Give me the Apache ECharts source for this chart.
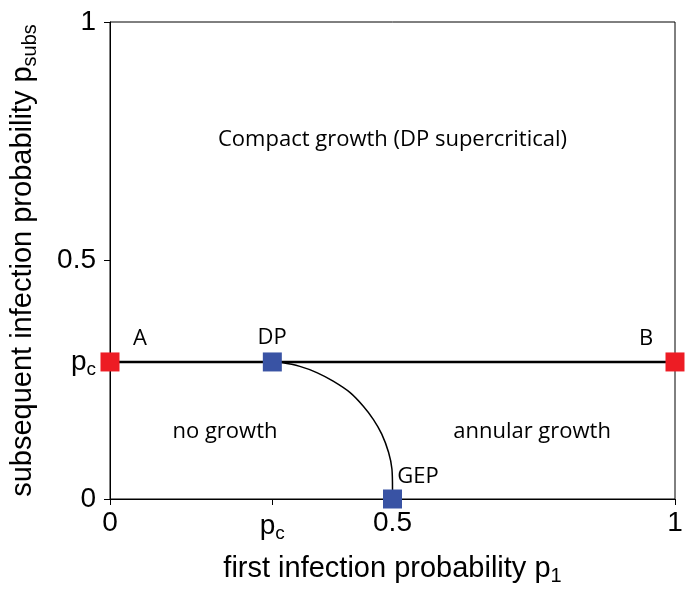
<!DOCTYPE html>
<html>
<head>
<meta charset="utf-8">
<script src="https://cdn.jsdelivr.net/npm/echarts@6/dist/echarts.min.js"></script>
<style>
  html, body { margin: 0; padding: 0; background: #fff; }
  #chart { width: 690px; height: 591px; }
</style>
</head>
<body>
<div id="chart"></div>
<script>
// critical probability of directed percolation
var pc = 0.2873;

// tick positions on both axes
var xTicks = [0, pc, 0.5, 1];
var yTicks = [0, pc, 0.5, 1];

// p_subs = pc line from A to B
var pcLine = [[0, pc], [1, pc]];

// boundary between no growth and annular growth, DP -> GEP
var boundary = [
  [pc, pc], [0.304, 0.286], [0.336, 0.278], [0.366, 0.265], [0.395, 0.247],
  [0.425, 0.223], [0.448, 0.195], [0.466, 0.167], [0.481, 0.136],
  [0.493, 0.098], [0.499, 0.063], [0.5, 0.021], [0.5, 0]
];

// marked points
var redPoints = [[0, pc], [1, pc]];
var bluePoints = [[pc, pc], [0.5, 0]];

// region and point labels
var notes = [
  { text: 'Compact growth (DP supercritical)', pos: [0.5, 0.753] },
  { text: 'no growth', pos: [0.2035, 0.140] },
  { text: 'annular growth', pos: [0.747, 0.140] },
  { text: 'A', pos: [0.053, 0.335] },
  { text: 'DP', pos: [0.287, 0.339] },
  { text: 'B', pos: [0.949, 0.335] },
  { text: 'GEP', pos: [0.545, 0.046] }
];

var tickFont = 'Liberation Sans';
var noteFont = 'Open Sans';

function tickLabel(v) {
  if (Math.abs(v - pc) < 1e-6) return '{p|p}{s|c}';
  return '{n|' + (v === 0.5 ? '0.5' : String(v)) + '}';
}
var tickRich = {
  n: { fontFamily: tickFont, fontSize: 28, color: '#000' },
  p: { fontFamily: tickFont, fontSize: 28, color: '#000' },
  s: { fontFamily: tickFont, fontSize: 19, color: '#000', padding: [15, 0, 0, 0] }
};
var nameRich = {
  t: { fontFamily: tickFont, fontSize: 29, color: '#000' },
  s: { fontFamily: tickFont, fontSize: 20, color: '#000', padding: [15, 0, 0, 0] }
};

var chart = echarts.init(document.getElementById('chart'));
chart.setOption({
  animation: false,
  grid: {
    left: 110, right: 15, top: 22, bottom: 91,
    show: true, borderColor: '#000', borderWidth: 1
  },
  xAxis: {
    type: 'value', min: 0, max: 1,
    name: '{t|first infection probability p}{s|1}',
    nameLocation: 'middle', nameGap: 52,
    nameTextStyle: { rich: nameRich },
    splitLine: { show: false },
    axisLine: { lineStyle: { color: '#000', width: 1 } },
    axisTick: { customValues: xTicks, length: 6, lineStyle: { color: '#000' } },
    axisLabel: { customValues: xTicks, formatter: tickLabel, rich: tickRich, margin: 10 }
  },
  yAxis: {
    type: 'value', min: 0, max: 1,
    name: '{t|subsequent infection probability p}{s|subs}',
    nameLocation: 'middle', nameGap: 70, nameRotate: 90,
    nameTextStyle: { rich: nameRich },
    splitLine: { show: false },
    axisLine: { lineStyle: { color: '#000', width: 1 } },
    axisTick: { customValues: yTicks, length: 6, lineStyle: { color: '#000' } },
    axisLabel: { customValues: yTicks, formatter: tickLabel, rich: tickRich, margin: 14 }
  },
  series: [
    {
      type: 'line', data: pcLine, symbol: 'none',
      lineStyle: { color: '#000', width: 2.5 }, z: 2
    },
    {
      type: 'line', data: boundary, symbol: 'none', smooth: 0.3,
      lineStyle: { color: '#000', width: 1.5 }, z: 2
    },
    {
      type: 'scatter', data: redPoints, symbol: 'rect', symbolSize: 19,
      itemStyle: { color: '#ED1C24', opacity: 1 }, clip: false, z: 5
    },
    {
      type: 'scatter', data: bluePoints, symbol: 'rect', symbolSize: 19,
      itemStyle: { color: '#3953A4', opacity: 1 }, clip: false, z: 5
    },
    {
      type: 'scatter', symbolSize: 0, z: 6,
      itemStyle: { opacity: 1 },
      data: notes.map(function (d) { return { value: d.pos, name: d.text }; }),
      label: {
        show: true, position: 'inside', formatter: '{b}',
        fontFamily: noteFont, fontSize: 22, color: '#000'
      }
    }
  ]
});
</script>
</body>
</html>
